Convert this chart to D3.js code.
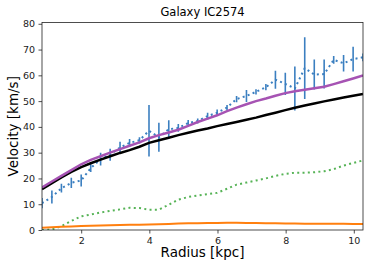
<!DOCTYPE html>
<html>
<head>
<meta charset="utf-8">
<script src="https://cdn.jsdelivr.net/npm/d3@7"></script>
<style>
  body { margin: 0; background: white; }
  svg { display: block; font-family: "DejaVu Sans", sans-serif; }
</style>
</head>
<body>
<svg id="chart"></svg>
<script>
// radius of each measured point [kpc]
const radius = [0.85, 1.14, 1.42, 1.71, 2.00, 2.28, 2.57, 2.85, 3.14, 3.42, 3.71, 3.99, 4.28, 4.57, 4.85, 5.14, 5.42,
  5.71, 5.99, 6.28, 6.56, 6.85, 7.13, 7.42, 7.70, 7.99, 8.27, 8.56, 8.84, 9.13, 9.41, 9.70, 9.98, 10.27]
// observed velocity and its error [km/s]
const vObs = [10.4, 12.8, 16.2, 18.3, 19.2, 24.0, 27.5, 29.2, 32.0, 33.8, 34.8, 38.5, 36.0, 39.1, 39.6, 41.5, 42.3,
  44.2, 45.5, 47.5, 50.8, 52.0, 53.6, 55.4, 58.3, 56.7, 54.9, 62.8, 60.3, 60.5, 66.0, 64.7, 66.3, 67.0]
const vErr = [2.0, 2.5, 1.7, 2.0, 2.3, 1.5, 2.5, 2.3, 2.2, 1.5, 1.2, 10.0, 5.6, 3.5, 1.5, 1.2, 1.0,
  1.3, 1.2, 1.0, 1.2, 2.3, 1.0, 1.2, 3.5, 4.3, 8.5, 12.0, 5.8, 5.6, 1.5, 3.2, 4.8, 1.5]
// model curves
const vBlack = [15.8, 18.2, 20.4, 22.5, 24.4, 25.9, 27.3, 28.6, 29.9, 31.0, 32.3, 33.8, 34.8, 35.8, 36.8, 37.7, 38.6,
  39.4, 40.3, 41.1, 41.9, 42.8, 43.6, 44.6, 45.5, 46.5, 47.4, 48.3, 49.1, 49.9, 50.6, 51.4, 52.1, 52.8]
const vMagenta = [16.5, 18.8, 21.0, 23.2, 25.5, 27.2, 28.6, 30.0, 31.4, 32.7, 34.0, 35.6, 36.8, 37.8, 38.9, 40.4, 41.9,
  43.2, 44.5, 46.1, 47.5, 48.8, 50.0, 51.0, 52.1, 53.1, 53.8, 54.4, 55.0, 55.6, 56.6, 57.7, 58.8, 60.0]
const vGreen = [0.0, 0.2, 1.5, 3.5, 5.3, 6.0, 6.8, 7.4, 8.0, 8.6, 8.5, 7.9, 7.9, 9.8, 11.8, 12.8, 13.4,
  13.9, 14.4, 16.0, 17.6, 18.4, 19.2, 20.0, 21.0, 21.8, 22.2, 22.2, 22.4, 22.8, 23.6, 25.0, 26.0, 27.0]
const vOrange = [0.9, 1.1, 1.25, 1.4, 1.55, 1.65, 1.75, 1.85, 1.9, 2.0, 2.05, 2.1, 2.2, 2.35, 2.5, 2.6, 2.65,
  2.7, 2.75, 2.8, 2.8, 2.75, 2.7, 2.65, 2.6, 2.55, 2.5, 2.45, 2.4, 2.4, 2.4, 2.4, 2.35, 2.3]

const xTicks = [2, 4, 6, 8, 10]
const yTicks = [0, 10, 20, 30, 40, 50, 60, 70, 80]

const width = 374
const height = 270
const margin = { top: 22.5, right: 11, bottom: 40, left: 42 }
const innerWidth = width - margin.left - margin.right
const innerHeight = height - margin.top - margin.bottom

const svg = d3.select('#chart')
  .attr('width', width)
  .attr('height', height)

const x = d3.scaleLinear()
  .domain([0.85, 10.27])
  .range([0, innerWidth])

const y = d3.scaleLinear()
  .domain([0, 80.5])
  .range([innerHeight, 0])

const g = svg.append('g')
  .attr('transform', `translate(${margin.left},${margin.top})`)

g.append('clipPath').attr('id', 'clip')
  .append('rect').attr('width', innerWidth).attr('height', innerHeight)

const plot = g.append('g').attr('clip-path', 'url(#clip)')

const line = vals => d3.line()
  .x((d, i) => x(radius[i]))
  .y(d => y(d))(vals)

// observed points with error bars
plot.selectAll('.err')
  .data(radius)
  .enter()
  .append('line')
  .attr('class', 'err')
  .attr('x1', d => x(d))
  .attr('x2', d => x(d))
  .attr('y1', (d, i) => y(vObs[i] - vErr[i]))
  .attr('y2', (d, i) => y(vObs[i] + vErr[i]))
  .attr('stroke', '#3b7fc0')
  .attr('stroke-width', 1.6)

plot.append('path')
  .attr('d', line(vObs))
  .attr('fill', 'none')
  .attr('stroke', '#3b7fc0')
  .attr('stroke-width', 2)
  .attr('stroke-dasharray', '2,3.3')

plot.append('path')
  .attr('d', line(vBlack))
  .attr('fill', 'none')
  .attr('stroke', 'black')
  .attr('stroke-width', 2.5)

plot.append('path')
  .attr('d', line(vMagenta))
  .attr('fill', 'none')
  .attr('stroke', '#a653b3')
  .attr('stroke-width', 2.5)

plot.append('path')
  .attr('d', line(vGreen))
  .attr('fill', 'none')
  .attr('stroke', '#56b356')
  .attr('stroke-width', 2)
  .attr('stroke-dasharray', '2,3.3')

plot.append('path')
  .attr('d', line(vOrange))
  .attr('fill', 'none')
  .attr('stroke', '#ff7f0e')
  .attr('stroke-width', 2)

// axes
const xAxis = g.append('g')
  .attr('transform', `translate(0,${innerHeight})`)
  .call(d3.axisBottom(x).tickValues(xTicks).tickSize(3.5).tickPadding(3.5).tickFormat(d3.format('d')))

const yAxis = g.append('g')
  .call(d3.axisLeft(y).tickValues(yTicks).tickSize(3.5).tickPadding(3.5))

for (const ax of [xAxis, yAxis]) {
  ax.select('.domain').remove()
  ax.selectAll('text').attr('font-size', 9.5).attr('fill', '#222').attr('font-family', 'DejaVu Sans')
  ax.selectAll('line').attr('stroke', '#222').attr('stroke-width', 0.8)
}

g.append('rect')
  .attr('width', innerWidth)
  .attr('height', innerHeight)
  .attr('fill', 'none')
  .attr('stroke', '#222')
  .attr('stroke-width', 0.8)

svg.append('text')
  .attr('x', margin.left + innerWidth / 2)
  .attr('y', 16)
  .attr('text-anchor', 'middle')
  .attr('font-size', 11.5)
  .text('Galaxy IC2574')

svg.append('text')
  .attr('x', margin.left + innerWidth / 2)
  .attr('y', 257)
  .attr('text-anchor', 'middle')
  .attr('font-size', 13.5)
  .text('Radius [kpc]')

svg.append('text')
  .attr('transform', `translate(18,${margin.top + innerHeight / 2}) rotate(-90)`)
  .attr('text-anchor', 'middle')
  .attr('font-size', 13.5)
  .text('Velocity [km/s]')
</script>
</body>
</html>
